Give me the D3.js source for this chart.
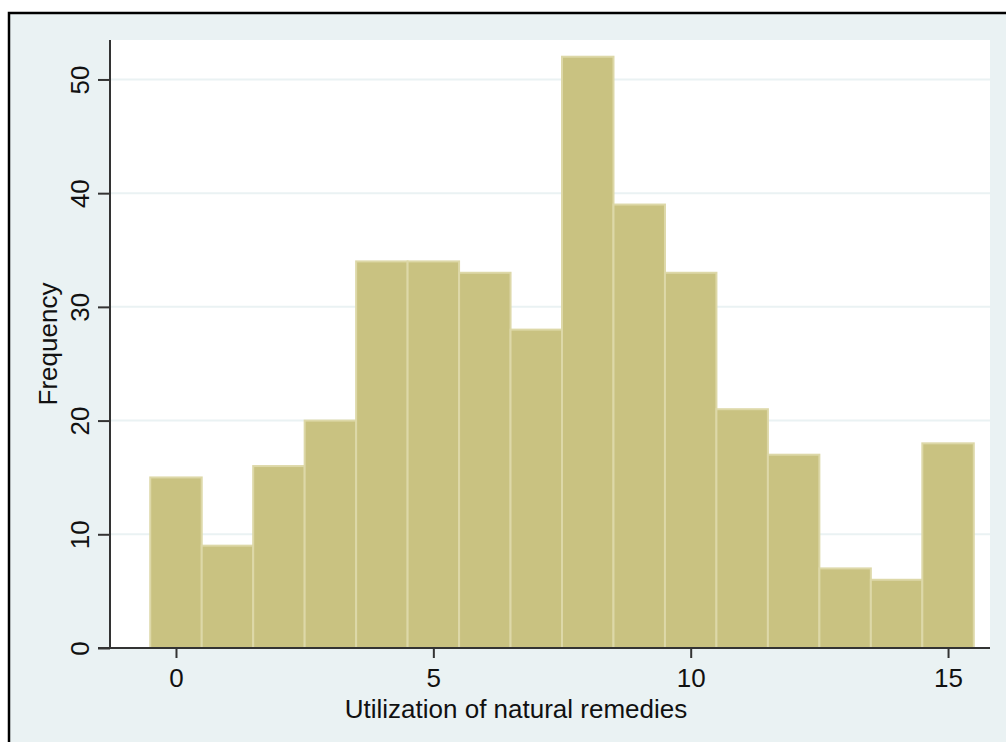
<!DOCTYPE html>
<html>
<head>
<meta charset="utf-8">
<script src="https://cdn.jsdelivr.net/npm/d3@7"></script>
<style>
  body { margin: 0; background: #fff; }
  text { font-family: "Liberation Sans", Arial, sans-serif; fill: #111; }
</style>
</head>
<body>
<svg id="chart" width="1006" height="742"></svg>
<script>
// histogram bins (bin centre) and frequencies
var bins = [0, 1, 2, 3, 4, 5, 6, 7, 8, 9, 10, 11, 12, 13, 14, 15];
var freq = [15, 9, 16, 20, 34, 34, 33, 28, 52, 39, 33, 21, 17, 7, 6, 18];
var xTicks = [0, 5, 10, 15];
var yTicks = [0, 10, 20, 30, 40, 50];
var xTitle = "Utilization of natural remedies";
var yTitle = "Frequency";

var svg = d3.select('#chart');
var fontSize = '26px';

// outer graph region
svg.append('rect')
  .attr('x', 9).attr('y', 13)
  .attr('width', 1010).attr('height', 740)
  .attr('fill', '#eaf2f3')
  .attr('stroke', '#000')
  .attr('stroke-width', 2.5);

var pLeft = 110, pRight = 990, pTop = 40, pBottom = 648;

var x = d3.scaleLinear().domain([-1.282, 15.815]).range([pLeft, pRight]);
var y = d3.scaleLinear().domain([0, 53.47]).range([pBottom, pTop]);

// plot region
svg.append('rect')
  .attr('x', pLeft).attr('y', pTop)
  .attr('width', pRight - pLeft).attr('height', pBottom - pTop)
  .attr('fill', '#fff');

// gridlines
svg.append('g').selectAll('line')
  .data(yTicks.slice(1))
  .enter().append('line')
    .attr('x1', pLeft).attr('x2', pRight)
    .attr('y1', function(d) { return y(d); })
    .attr('y2', function(d) { return y(d); })
    .attr('stroke', '#eaf2f3')
    .attr('stroke-width', 2);

// bars
svg.append('g').selectAll('rect')
  .data(bins)
  .enter().append('rect')
    .attr('x', function(d) { return x(d - 0.5); })
    .attr('y', function(d, i) { return y(freq[i]); })
    .attr('width', function(d) { return x(d + 0.5) - x(d - 0.5); })
    .attr('height', function(d, i) { return y(0) - y(freq[i]); })
    .attr('fill', '#c9c281')
    .attr('stroke', '#ddd8a8')
    .attr('stroke-width', 2);

// y axis
var yAxis = svg.append('g')
  .attr('transform', 'translate(' + pLeft + ',0)')
  .call(d3.axisLeft(y).tickValues(yTicks).tickSize(12).tickSizeOuter(0));
yAxis.select('.domain').remove();
yAxis.selectAll('.tick line').attr('stroke', '#333').attr('stroke-width', 2);
yAxis.selectAll('.tick text')
  .attr('transform', 'rotate(-90)')
  .attr('x', 0).attr('y', -21)
  .attr('dy', null)
  .attr('text-anchor', 'middle')
  .attr('font-size', null).attr('font-family', null)
  .style('font-size', fontSize);

svg.append('line')
  .attr('x1', pLeft).attr('x2', pLeft)
  .attr('y1', pTop).attr('y2', pBottom + 1)
  .attr('stroke', '#333').attr('stroke-width', 2);

// x axis
var xAxis = svg.append('g')
  .attr('transform', 'translate(0,' + pBottom + ')')
  .call(d3.axisBottom(x).tickValues(xTicks).tickSize(10).tickSizeOuter(0));
xAxis.select('.domain').remove();
xAxis.selectAll('.tick line').attr('stroke', '#333').attr('stroke-width', 2);
xAxis.selectAll('.tick text')
  .attr('y', 39).attr('dy', null)
  .attr('font-size', null).attr('font-family', null)
  .style('font-size', fontSize);

svg.append('line')
  .attr('x1', pLeft - 12).attr('x2', pRight)
  .attr('y1', pBottom).attr('y2', pBottom)
  .attr('stroke', '#333').attr('stroke-width', 2);

// titles
svg.append('text')
  .attr('x', 516).attr('y', 718)
  .attr('text-anchor', 'middle')
  .style('font-size', fontSize)
  .text(xTitle);

svg.append('text')
  .attr('transform', 'translate(57,' + ((pTop + pBottom) / 2) + ') rotate(-90)')
  .attr('text-anchor', 'middle')
  .style('font-size', fontSize)
  .text(yTitle);
</script>
</body>
</html>
